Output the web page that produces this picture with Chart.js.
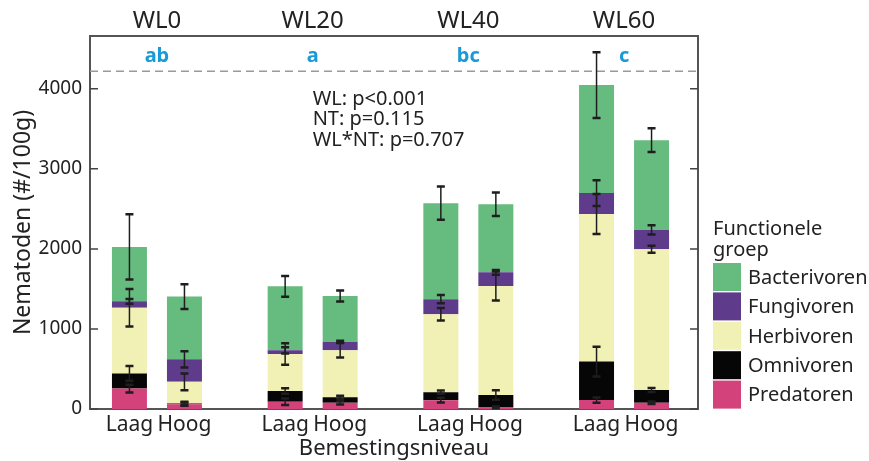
<!DOCTYPE html>
<html><head><meta charset="utf-8">
<script src="https://cdn.jsdelivr.net/npm/chart.js@4"></script>
<style>html,body{margin:0;padding:0;background:#fff}#wrap{width:869px;height:461px;position:relative}</style>
</head><body><div id="wrap"><canvas id="c"></canvas></div>
<script>
// ---- data ----
const categories = ['WL0', 'WL20', 'WL40', 'WL60'];
const treatments = ['Laag', 'Hoog'];
const groups = ['Predatoren', 'Omnivoren', 'Herbivoren', 'Fungivoren', 'Bacterivoren'];
const letters = ['ab', 'a', 'bc', 'c'];
const yTicks = [0, 1000, 2000, 3000, 4000];
const statLines = ['WL: p<0.001', 'NT: p=0.115', 'WL*NT: p=0.707'];
const refLine = 4220;

const predLaag = [255, 90, 110, 112];
const predHoog = [60, 79, 20, 79];
const omniLaag = [190, 135, 100, 480];
const omniHoog = [10, 67, 155, 158];
const herbLaag = [820, 462, 975, 1843];
const herbHoog = [270, 587, 1362, 1759];
const fungLaag = [80, 46, 187, 262];
const fungHoog = [280, 108, 171, 241];
const bactLaag = [680, 800, 1200, 1350];
const bactHoog = [785, 571, 850, 1121];

const predErrLaag = [48, 40, 30, 33];
const predErrHoog = [20, 22, 10, 15];
const omniErrLaag = [92, 35, 20, 187];
const omniErrHoog = [20, 20, 58, 25];
const herbErrLaag = [233, 135, 78, 250];
const herbErrHoog = [105, 90, 180, 45];
const fungErrLaag = [30, 40, 52, 160];
const fungErrHoog = [100, 12, 30, 58];
const bactErrLaag = [408, 130, 208, 410];
const bactErrHoog = [155, 70, 146, 148];

// ---- styling ----
const colors = ['#D3427A', '#060606', '#F1F1B5', '#5E3B8B', '#66BB7F'];
const FONT = '"Noto Sans", "Open Sans", sans-serif';
const TXT = '#222222';
const AXIS = '#555555';
const catPct = 0.7066;
const barPct = 0.636;
const xMin = -0.43, xMax = 3.475, yMax = 4660;

const values = [[predLaag, predHoog], [omniLaag, omniHoog], [herbLaag, herbHoog], [fungLaag, fungHoog], [bactLaag, bactHoog]];
const errors = [[predErrLaag, predErrHoog], [omniErrLaag, omniErrHoog], [herbErrLaag, herbErrHoog], [fungErrLaag, fungErrHoog], [bactErrLaag, bactErrHoog]];

const datasets = [];
groups.forEach((g, gi) => {
  treatments.forEach((t, ti) => {
    const cum = categories.map((c, i) => {
      let s = 0; for (let k = 0; k <= gi; k++) s += values[k][ti][i]; return s;
    });
    datasets.push({
      label: g,
      stack: t,
      xAxisID: 'xTop',
      yAxisID: 'y',
      data: categories.map((c, i) => ({ x: i, y: values[gi][ti][i] })),
      backgroundColor: colors[gi],
      borderWidth: 0,
      categoryPercentage: catPct,
      barPercentage: barPct,
      cum: cum,
      err: errors[gi][ti]
    });
  });
});

const bottomTicks = [];
categories.forEach((c, i) => {
  bottomTicks.push(i - catPct / 4);
  bottomTicks.push(i + catPct / 4);
});

const decorPlugin = {
  id: 'decor',
  beforeDatasetsDraw(chart) {
    const { ctx, chartArea: a, scales } = chart;
    const y = scales.y;
    ctx.save();
    ctx.strokeStyle = '#9a9a9a';
    ctx.lineWidth = 1.5;
    ctx.setLineDash([8, 5]);
    const yy = y.getPixelForValue(refLine);
    ctx.beginPath(); ctx.moveTo(a.left, yy); ctx.lineTo(a.right, yy); ctx.stroke();
    ctx.restore();
  },
  afterDatasetsDraw(chart) {
    const { ctx, chartArea: a, scales } = chart;
    const y = scales.y, xs = scales.xTop;
    ctx.save();
    // error bars
    chart.data.datasets.forEach((ds, di) => {
      const meta = chart.getDatasetMeta(di);
      meta.data.forEach((el, i) => {
        const top = y.getPixelForValue(ds.cum[i] + ds.err[i]);
        const bot = y.getPixelForValue(ds.cum[i] - ds.err[i]);
        ctx.strokeStyle = '#1e1e1e';
        ctx.lineWidth = 1.5;
        ctx.beginPath(); ctx.moveTo(el.x, top); ctx.lineTo(el.x, bot); ctx.stroke();
        ctx.lineWidth = 2.5;
        ctx.beginPath();
        ctx.moveTo(el.x - 4, top); ctx.lineTo(el.x + 4, top);
        ctx.moveTo(el.x - 4, bot); ctx.lineTo(el.x + 4, bot);
        ctx.stroke();
      });
    });
    // right border
    ctx.strokeStyle = AXIS; ctx.lineWidth = 2;
    ctx.beginPath(); ctx.moveTo(a.right, a.top - 1); ctx.lineTo(a.right, a.bottom + 1); ctx.stroke();
    // inward ticks
    ctx.lineWidth = 1.5; ctx.strokeStyle = '#444';
    yTicks.forEach(v => {
      const p = y.getPixelForValue(v);
      ctx.beginPath();
      ctx.moveTo(a.left, p); ctx.lineTo(a.left + 8, p);
      ctx.moveTo(a.right, p); ctx.lineTo(a.right - 8, p);
      ctx.stroke();
    });
    // significance letters
    ctx.fillStyle = '#1A9BD7';
    ctx.font = 'bold 20px ' + FONT;
    ctx.textAlign = 'center'; ctx.textBaseline = 'alphabetic';
    letters.forEach((l, i) => ctx.fillText(l, xs.getPixelForValue(i), y.getPixelForValue(4337)));
    // stats text
    ctx.fillStyle = TXT;
    ctx.font = '20px ' + FONT;
    ctx.textAlign = 'left';
    statLines.forEach((s, k) => ctx.fillText(s, xs.getPixelForValue(1), y.getPixelForValue(3800) + k * 20.5));
    // legend
    const lx = a.right + 15;
    ctx.font = '20px ' + FONT;
    ctx.fillText('Functionele', lx, 235);
    ctx.fillText('groep', lx, 256);
    ctx.textBaseline = 'middle';
    const order = groups.slice().reverse();
    const ocol = colors.slice().reverse();
    order.forEach((g, k) => {
      const by = 263 + k * 29.4;
      ctx.fillStyle = ocol[k];
      ctx.fillRect(lx, by, 28, 28);
      ctx.fillStyle = TXT;
      ctx.fillText(g, lx + 35, by + 15);
    });
    ctx.restore();
  }
};

new Chart(document.getElementById('c'), {
  type: 'bar',
  data: { datasets },
  options: {
    responsive: true,
    maintainAspectRatio: false,
    animation: false,
    layout: { padding: { left: 0, right: 171, top: 0, bottom: 0 } },
    plugins: { legend: { display: false }, tooltip: { enabled: false } },
    scales: {
      xTop: {
        axis: 'x', type: 'linear', position: 'top', min: xMin, max: xMax, offset: false, stacked: true,
        grid: { display: false, drawTicks: false },
        border: { display: true, color: AXIS, width: 2 },
        afterBuildTicks: s => { s.ticks = categories.map((c, i) => ({ value: i })); },
        ticks: { autoSkip: false, maxRotation: 0, padding: 0, color: TXT, font: { family: FONT, size: 24 },
          callback: (v, i) => categories[i] },
        afterFit: s => { s.height = 36; }
      },
      x: {
        axis: 'x', type: 'linear', position: 'bottom', min: xMin, max: xMax, offset: false,
        grid: { display: false, drawTicks: false },
        border: { display: true, color: AXIS, width: 2 },
        afterBuildTicks: s => { s.ticks = bottomTicks.map(v => ({ value: v })); },
        ticks: { autoSkip: false, maxRotation: 0, padding: 3, color: TXT, font: { family: FONT, size: 21 },
          callback: (v, i) => treatments[i % 2] },
        title: { display: true, text: 'Bemestingsniveau', color: TXT, font: { family: FONT, size: 22 }, padding: { top: 0, bottom: -1 } },
        afterFit: s => { s.height = 52; }
      },
      y: {
        type: 'linear', position: 'left', min: 0, max: yMax, stacked: true,
        grid: { display: false, drawTicks: false },
        border: { display: true, color: AXIS, width: 2 },
        afterBuildTicks: s => { s.ticks = yTicks.map(v => ({ value: v })); },
        ticks: { padding: 8, color: TXT, font: { family: FONT, size: 19 }, callback: v => String(v) },
        title: { display: true, text: 'Nematoden (#/100g)', color: TXT, font: { family: FONT, size: 23 }, padding: { top: 10, bottom: 0 } },
        afterFit: s => { s.width = 90; }
      }
    }
  },
  plugins: [decorPlugin]
});
</script>
</body></html>
